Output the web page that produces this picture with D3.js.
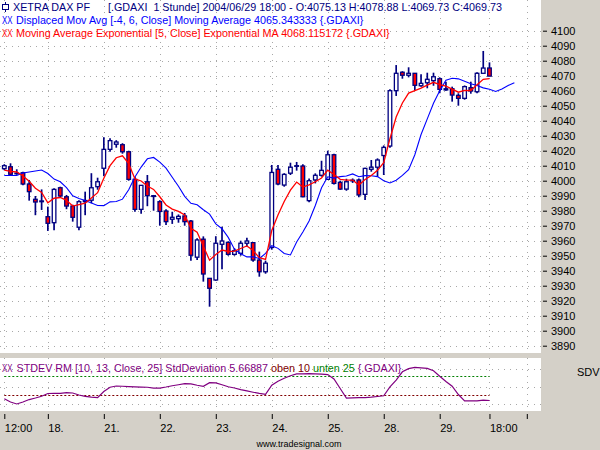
<!DOCTYPE html>
<html>
<head>
<meta charset="utf-8">
<script src="https://cdn.jsdelivr.net/npm/d3@7"></script>
<style>
body { margin: 0; background: #d4d0c8; }
svg { display: block; font-family: "Liberation Sans", Arial, sans-serif; }
</style>
</head>
<body>
<svg id="chart" width="600" height="450"></svg>
<script>
// hourly bars .GDAXI, 17.06.2004 12:00 .. 29.06.2004 18:00
opens = [4008,4009.3,4005,4005.3,3997.8,3987.6,3986,3976,3972,3995.3,
	3989.3,3983.1,3969,3986,3987,3996,4008.3,4020.9,4024.3,4024,
	4019.3,4000.9,3980.9,3999.3,3990,3986,3979.8,3974.3,3974.7,3976.5,
	3973.1,3949,3961,3934.9,3933.8,3957.6,3958.9,3950.9,3951.6,3958.3,
	3958.7,3947.1,3939.3,3955.5,4007.6,3997.1,4005,4009.6,4009.8,3986.7,
	4000.5,4003.6,4000.9,4017.3,3998.9,3994.4,4000,4000.5,3990.9,4007.6,
	4009,4016.8,4023.1,4060,4072.3,4070.3,4071.6,4063.3,4065.3,4066.7,
	4068,4060.5,4061.3,4056.9,4054.9,4062,4059.3,4071.6,4075.13];
highs = [4011,4011.6,4007.6,4006,4000.5,3989.8,3994.2,3982.7,3995,3996,
	3990.5,3984,3987,3992.7,4005,4002,4029,4028.3,4027,4025,
	4020,4002.7,3997,4003.8,3990.5,3987,3981,3979.3,3977.5,3978.5,
	3973.8,3961.6,3962.9,3935,3963,3969.3,3959.5,3955,3960,3962,
	3959,3952.7,3946.7,4010.5,4010.5,4005,4012,4012.5,4011,4001.5,
	4004.9,4013.3,4020,4018,4000,4001.3,4001.5,4001.5,4008.7,4013.8,
	4014.9,4023.5,4061,4077.1,4073,4075.6,4071.8,4070.9,4072,4072,
	4068.9,4066,4062.7,4058.3,4063.5,4066,4072.3,4086.5,4078.88];
lows = [4007,4003.3,4004,3997,3986.7,3977,3980.5,3966.5,3967,3989,
	3981,3972.7,3967,3977,3985,3994,4003,4019.3,4022,4018,
	4000,3979.3,3977.9,3983,3980,3970,3970.5,3971.2,3972,3970,
	3946.7,3947.1,3932.7,3916,3933.3,3940.9,3950,3950,3950,3956,
	3946,3936,3938,3954,3997,3996,4003.8,4006.7,3989,3985.6,
	3998.2,4002.7,4000.5,3997.5,3994,3993.3,3998.5,3988.9,3987.1,4006,
	4002.7,4003.8,4022,4056.5,4068,4068.9,4060.3,4062.7,4061.6,4063.3,
	4058.3,4060,4052.7,4050,4054,4058,4058.3,4071.6,4069.73];
closes = [4010,4004.3,4005,3997.8,3992.7,3985.8,3986.5,3971.6,3994.2,3989.8,
	3983.1,3975.6,3986,3986.8,3995.3,3999.3,4020.9,4026.7,4025.8,4019.3,
	4000.9,3980.9,3996.9,3990,3989.5,3979.5,3972.7,3975.6,3976.2,3972.7,
	3950.3,3960.5,3937.8,3928.3,3958.3,3959.8,3950.9,3953.3,3958.3,3959.8,
	3947.1,3939.3,3945,4005.5,3997.8,4004.2,4009,4010,3989.3,4000,
	4003.6,4006.9,4017.3,3998.2,3994.4,3999.3,4000.3,3990.5,4008.2,4009,
	4013.8,4022.2,4060,4071.6,4070.3,4071.6,4063.6,4064.9,4067.6,4069.3,
	4060.9,4061.3,4057.1,4054.9,4062.7,4059.8,4071.6,4075.1,4069.73];

// Exponential MA [5, Close]
emaValues = [4007.1,4006.2,4005.8,4003.1,3999.6,3995.0,3992.2,3985.3,3988.3,3988.8,
	3986.9,3983.1,3984.1,3985.0,3988.4,3992.0,4001.6,4010.0,4015.3,4016.6,
	4011.4,4001.2,3999.8,3996.5,3994.2,3989.3,3983.8,3981.1,3979.5,3977.2,
	3968.2,3965.6,3956.3,3947.0,3950.8,3953.8,3952.8,3953.0,3954.8,3956.5,
	3953.4,3948.7,3947.5,3966.8,3977.1,3986.1,3993.7,3999.1,3995.8,3997.2,
	3999.3,4001.8,4007.0,4004.1,4000.9,4000.4,4000.4,3997.1,4000.8,4003.5,
	4006.9,4012.0,4028.0,4042.5,4051.8,4058.4,4060.1,4061.7,4063.7,4065.6,
	4064.0,4063.1,4061.1,4059.0,4060.2,4060.1,4063.9,4067.6,4068.1];

// Displaced Mov Avg [-4, 6, Close], runs 4 bars past the last bar
dmaValues = [4003.5,4003.5,4003.5,4005.1,4005.8,4006.5,4007.1,4004.8,4001.1,3999.3,
	3995.4,3989.9,3988.1,3986.8,3985.2,3983.5,3983.4,3985.9,3986.1,3987.7,
	3994.0,4002.5,4009.1,4014.6,4015.5,4012.4,4008.4,4002.3,3996.3,3989.6,
	3984.9,3984.0,3980.6,3977.7,3971.2,3968.0,3962.2,3954.3,3951.3,3949.2,
	3949.3,3948.1,3951.5,3956.7,3954.9,3951.5,3950.5,3959.2,3965.8,3973.2,
	3983.5,3995.3,4002.6,4001.7,4002.7,4003.1,4004.5,4002.6,4003.4,4003.3,
	4002.7,4000.0,3998.5,4000.3,4003.5,4007.3,4017.3,4030.8,4041.2,4051.6,
	4059.9,4067.0,4068.3,4067.9,4066.3,4064.6,4063.5,4061.9,4061.0,4059.5,
	4061.2,4063.5,4065.34];

// STDEV RM [10, 13, Close, 25]
sdValues = [7.0,4.5,2.9,4.5,6.4,7.6,9.0,11.2,11.3,11.3,
	11.8,11.6,10.0,8.9,8.3,7.9,12.8,16.1,17.1,16.9,
	16.6,16.4,16.2,16.1,15.5,15.5,16.3,17.3,18.1,19.0,
	18.8,17.7,16.9,19.7,19.6,18.1,16.5,15.5,14.2,13.2,
	12.2,11.3,10.6,17.7,20.9,23.2,25.2,26.6,26.7,26.8,
	26.7,26.5,26.1,22.6,15.1,7.5,7.7,7.9,8.0,8.3,
	8.8,9.4,16.4,21.8,28.3,30.8,31.8,31.4,31.0,29.1,
	24.8,20.7,16.9,10.4,5.3,5.3,5.3,5.9,5.67];
sdUpper = 25;
sdLower = 10;
sdGrid = [2.7, 16.6, 30.5];

priceTicks = [4100,4090,4080,4070,4060,4050,4040,4030,4020,4010,4000,
	3990,3980,3970,3960,3950,3940,3930,3920,3910,3900,3890];
timeTickBars = [0, 7, 16, 25, 34, 43, 52, 61, 70, 78, 84];
timeTickLabels = ['12:00', '18.', '21.', '22.', '23.', '24.', '25.', '28.', '29.', '18:00', ''];

plotRight = 541;
mainBottom = 353;
lowTop = 358;
lowBottom = 411;
navy = '#000080';
gridColor = '#a8a8a8';
txtSize = '10.75px';

svg = d3.select('#chart');
x = d3.scaleLinear().domain([0, 84]).range([4.3, 526.8]);
y = d3.scaleLinear().domain([3890, 4100]).range([345.7, 30.7]);
ySd = d3.scaleLinear().domain([sdLower, sdUpper]).range([395, 376]);

// panels
svg.append('rect').attr('width', 600).attr('height', 450).attr('fill', '#d4d0c8');
svg.append('rect').attr('width', plotRight).attr('height', mainBottom).attr('fill', '#fff');
svg.append('rect').attr('y', lowTop).attr('width', plotRight).attr('height', lowBottom - lowTop).attr('fill', '#fff');

defs = svg.append('defs');
defs.append('clipPath').attr('id', 'clipMain')
	.append('rect').attr('width', plotRight).attr('height', mainBottom);
defs.append('clipPath').attr('id', 'clipLow')
	.append('rect').attr('y', lowTop).attr('width', plotRight).attr('height', lowBottom - lowTop);

// grid
gridG = svg.append('g')
	.attr('stroke', gridColor)
	.attr('stroke-width', 1)
	.attr('stroke-dasharray', '1,5');
gridG.selectAll('.hg').data(priceTicks).join('line')
	.attr('x1', 0).attr('x2', plotRight)
	.attr('y1', d => Math.round(y(d)) + 0.5).attr('y2', d => Math.round(y(d)) + 0.5);
gridG.selectAll('.vg').data(timeTickBars).join('line')
	.attr('x1', d => Math.round(x(d)) + 0.5).attr('x2', d => Math.round(x(d)) + 0.5)
	.attr('y1', 0).attr('y2', mainBottom);
gridG.selectAll('.hl').data(sdGrid).join('line')
	.attr('x1', 0).attr('x2', plotRight)
	.attr('y1', d => Math.round(ySd(d)) + 0.5).attr('y2', d => Math.round(ySd(d)) + 0.5);
gridG.selectAll('.vl').data(timeTickBars).join('line')
	.attr('x1', d => Math.round(x(d)) + 0.5).attr('x2', d => Math.round(x(d)) + 0.5)
	.attr('y1', lowTop).attr('y2', lowBottom);

// candles
mainG = svg.append('g').attr('clip-path', 'url(#clipMain)');
bars = d3.range(closes.length);
candleG = mainG.selectAll('.candle').data(bars).join('g');
candleG.append('line')
	.attr('x1', i => x(i)).attr('x2', i => x(i))
	.attr('y1', i => y(highs[i])).attr('y2', i => y(lows[i]))
	.attr('stroke', navy)
	.attr('stroke-width', 1.7);
candleG.append('rect')
	.attr('x', i => x(i) - 1.8)
	.attr('width', 3.6)
	.attr('y', i => y(Math.max(opens[i], closes[i])))
	.attr('height', i => Math.max(0.6, Math.abs(y(opens[i]) - y(closes[i]))))
	.attr('fill', i => closes[i] >= opens[i] ? '#fff' : '#ff0000')
	.attr('stroke', navy)
	.attr('stroke-width', 1.3);

// moving averages
maLine = d3.line().x((d, i) => x(i)).y(d => y(d));
mainG.append('path')
	.attr('d', maLine(dmaValues))
	.attr('fill', 'none')
	.attr('stroke', '#0000ff')
	.attr('stroke-width', 1.1);
mainG.append('path')
	.attr('d', maLine(emaValues))
	.attr('fill', 'none')
	.attr('stroke', '#ff0000')
	.attr('stroke-width', 1.3);

// header
function xxMark(g, yy, color){
	g.append('text').attr('x', 2).attr('y', yy).attr('fill', color)
		.attr('textLength', 10.5).attr('lengthAdjust', 'spacingAndGlyphs')
		.style('font-weight', 300)
		.text('XX');
}
hdr = svg.append('g').style('font-size', txtSize);
icon = hdr.append('g').attr('stroke', navy).attr('fill', '#fff');
icon.append('line').attr('x1', 5.5).attr('x2', 5.5).attr('y1', 2).attr('y2', 12);
icon.append('rect').attr('x', 2.5).attr('y', 4.5).attr('width', 6).attr('height', 5);
hdr.append('text').attr('x', 13).attr('y', 11).attr('fill', navy).text('XETRA DAX PF');
hdr.append('text').attr('x', 108).attr('y', 11).attr('fill', navy)
	.attr('xml:space', 'preserve')
	.text('[.GDAXI  1 Stunde] 2004/06/29 18:00 - O:4075.13 H:4078.88 L:4069.73 C:4069.73');
xxMark(hdr, 24, '#0000ff');
hdr.append('text').attr('x', 16).attr('y', 24).attr('fill', '#0000ff')
	.text('Displaced Mov Avg [-4, 6, Close] Moving Average 4065.343333 {.GDAXI}');
xxMark(hdr, 37, '#ff0000');
hdr.append('text').attr('x', 16).attr('y', 37).attr('fill', '#ff0000')
	.text('Moving Average Exponential [5, Close] Exponential MA 4068.115172 {.GDAXI}');

// lower panel
lowG = svg.append('g').attr('clip-path', 'url(#clipLow)');
lowG.append('line')
	.attr('x1', x(0)).attr('x2', x(closes.length - 1))
	.attr('y1', Math.round(ySd(sdUpper)) + 0.5).attr('y2', Math.round(ySd(sdUpper)) + 0.5)
	.attr('stroke', '#008000').attr('stroke-dasharray', '2,2');
lowG.append('line')
	.attr('x1', x(0)).attr('x2', x(closes.length - 1))
	.attr('y1', Math.round(ySd(sdLower)) + 0.5).attr('y2', Math.round(ySd(sdLower)) + 0.5)
	.attr('stroke', '#800000').attr('stroke-dasharray', '2,2');
lowG.append('path')
	.attr('d', d3.line().x((d, i) => x(i)).y(d => ySd(d))(sdValues))
	.attr('fill', 'none')
	.attr('stroke', '#800080')
	.attr('stroke-width', 1.2);
lowHdr = svg.append('g').style('font-size', txtSize);
xxMark(lowHdr, 371.5, '#800080');
lowTxt = lowHdr.append('text').attr('x', 16.5).attr('y', 371.5);
lowTxt.append('tspan').attr('fill', '#800080').text('STDEV RM [10, 13, Close, 25] StdDeviation 5.66887 ');
lowTxt.append('tspan').attr('fill', '#800000').text('oben 10 ');
lowTxt.append('tspan').attr('fill', '#008000').text('unten 25 ');
lowTxt.append('tspan').attr('fill', '#800080').text('{.GDAXI}');

// axes
yAxis = svg.append('g')
	.attr('transform', `translate(${plotRight + 2},0)`)
	.call(d3.axisRight(y).tickValues(priceTicks).tickSize(4).tickPadding(4).tickFormat(d3.format('d')));
xAxis = svg.append('g')
	.attr('transform', `translate(0,${lowBottom + 3})`)
	.call(d3.axisBottom(x).tickValues(timeTickBars).tickSize(5).tickFormat((d, i) => timeTickLabels[i]));
[yAxis, xAxis].forEach(a => {
	a.select('.domain').remove();
	a.selectAll('line').attr('stroke', '#000');
	a.selectAll('text').attr('fill', '#000')
		.style('font-family', '"Liberation Sans", Arial, sans-serif')
		.style('font-size', '11px');
});
xAxis.selectAll('text').attr('text-anchor', 'start').attr('x', 0).attr('y', 10.5);

svg.append('text').attr('x', 577).attr('y', 376).style('font-size', '11px').attr('fill', '#000').text('SDV');
svg.append('text').attr('x', 299).attr('y', 447).attr('text-anchor', 'middle')
	.style('font-size', '9px').attr('fill', '#000').text('www.tradesignal.com');
</script>
</body>
</html>
